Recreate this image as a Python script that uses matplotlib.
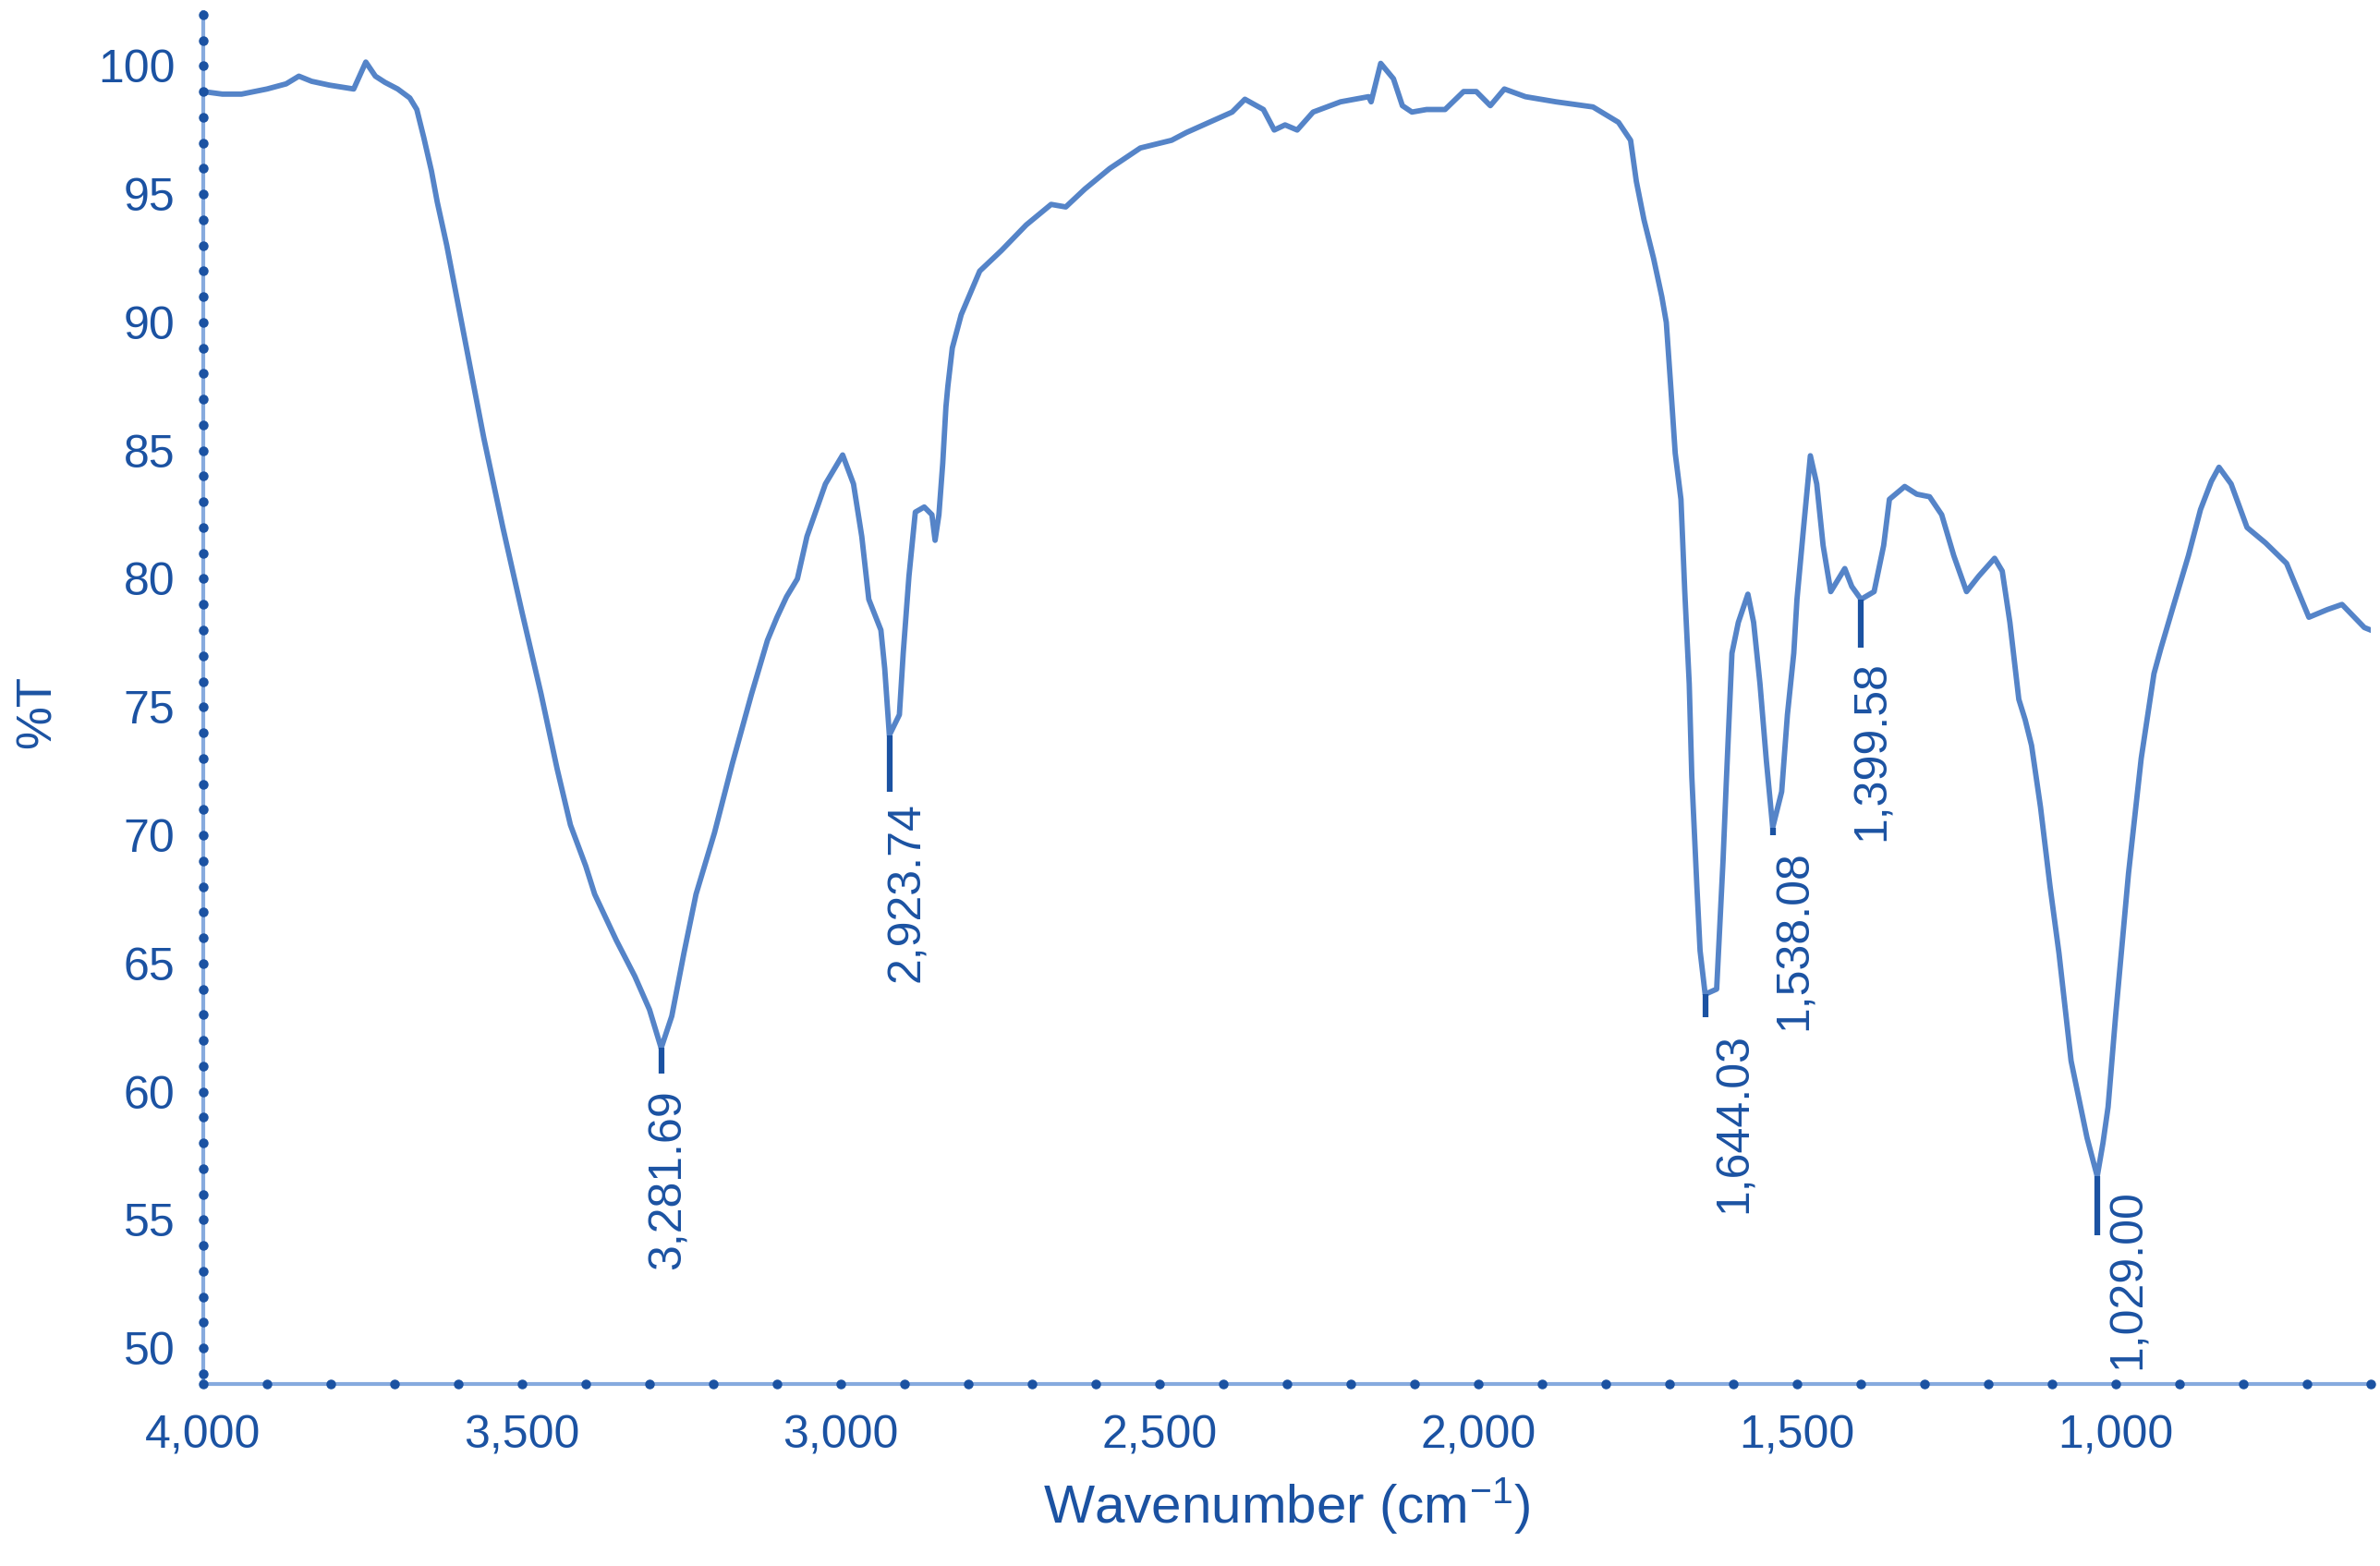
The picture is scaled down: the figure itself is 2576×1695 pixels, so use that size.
import numpy as np
import matplotlib
matplotlib.use('Agg')
import matplotlib.pyplot as plt
from matplotlib.ticker import FuncFormatter, MultipleLocator

plt.rcParams['font.family'] = ['Liberation Sans', 'DejaVu Sans']
plt.rcParams['mathtext.fontset'] = 'custom'
plt.rcParams['mathtext.rm'] = 'Liberation Sans'
plt.rcParams['mathtext.it'] = 'Liberation Sans'

# 光谱数据
wavenumber = [4000, 3970, 3940, 3900, 3870, 3850, 3830, 3802, 3764, 3745,
              3730, 3715, 3695, 3676, 3665, 3654, 3642, 3633, 3618, 3594,
              3560, 3530, 3500, 3470, 3445, 3424, 3400, 3386, 3352, 3323,
              3300, 3281.69, 3265, 3246, 3227, 3198, 3170, 3140, 3115, 3100,
              3085, 3068, 3053, 3024, 2997, 2980, 2967, 2956, 2937, 2931,
              2923.74, 2908, 2902, 2893, 2883, 2869, 2857, 2852, 2846, 2840,
              2835, 2832, 2825, 2811, 2782, 2748, 2709, 2670, 2647, 2617,
              2578, 2530, 2481, 2458, 2386, 2366, 2337, 2320, 2303, 2284,
              2259, 2216, 2172, 2168, 2153, 2133, 2119, 2104, 2081, 2052,
              2023, 2003, 1981, 1959, 1926, 1878, 1820, 1780, 1761, 1752,
              1740, 1725, 1712, 1705, 1698, 1691, 1682, 1676, 1669, 1665,
              1657, 1652, 1644.03, 1635, 1626, 1621, 1616, 1611, 1602, 1592,
              1577, 1568, 1558, 1548, 1538.08, 1524, 1515, 1505, 1500, 1490,
              1479, 1469, 1459, 1447, 1425, 1414, 1399.58, 1379, 1364, 1355,
              1331, 1312, 1292, 1273, 1254, 1234, 1215, 1190, 1178, 1166,
              1152, 1142, 1132, 1118, 1103, 1089, 1070, 1045, 1029, 1020,
              1012, 1000, 980, 960, 940, 929, 910, 886, 867, 850,
              838, 819, 794, 765, 732, 697, 668, 645, 610, 600]
transmittance = [99.0, 98.9, 98.9, 99.1, 99.3, 99.6, 99.4, 99.25, 99.1, 100.15,
                 99.6, 99.36, 99.1, 98.75, 98.3, 97.2, 95.9, 94.7, 93.0, 89.9,
                 85.5, 82.0, 78.7, 75.5, 72.6, 70.4, 68.8, 67.7, 65.9, 64.5,
                 63.2, 61.7, 62.95, 65.4, 67.7, 70.1, 72.8, 75.5, 77.6, 78.5,
                 79.3, 80.0, 81.65, 83.7, 84.83, 83.7, 81.65, 79.2, 78.0, 76.5,
                 73.9, 74.7, 77.1, 80.1, 82.6, 82.8, 82.5, 81.5, 82.5, 84.5,
                 86.7, 87.5, 89.0, 90.3, 92.0, 92.8, 93.8, 94.6, 94.5, 95.2,
                 96.0, 96.8, 97.1, 97.4, 98.2, 98.7, 98.3, 97.5, 97.7, 97.5,
                 98.2, 98.6, 98.8, 98.6, 100.1, 99.5, 98.45, 98.2, 98.3, 98.3,
                 99.0, 99.0, 98.45, 99.1, 98.8, 98.6, 98.4, 97.8, 97.1, 95.5,
                 94.0, 92.5, 91.0, 90.0, 87.5, 84.9, 83.1, 79.5, 75.9, 72.3,
                 68.0, 65.5, 63.8, 63.9, 64.0, 66.5, 69.0, 72.0, 77.1, 78.3,
                 79.4, 78.3, 75.9, 72.9, 70.3, 71.7, 74.7, 77.1, 79.2, 81.9,
                 84.8, 83.7, 81.3, 79.5, 80.4, 79.7, 79.2, 79.5, 81.3, 83.1,
                 83.6, 83.3, 83.2, 82.5, 80.9, 79.5, 80.1, 80.8, 80.3, 78.3,
                 75.3, 74.5, 73.5, 71.1, 68.0, 65.4, 61.2, 58.2, 56.7, 58.0,
                 59.4, 63.0, 68.5, 73.0, 76.3, 77.3, 78.9, 80.9, 82.7, 83.8,
                 84.35, 83.7, 82.0, 81.4, 80.6, 78.5, 78.8, 79.0, 78.1, 78.0]

# 标注的峰
peak_wn = [3281.69, 2923.74, 1644.03, 1538.08, 1399.58, 1029.00]
peak_t = [61.7, 73.9, 63.8, 70.3, 79.2, 56.7]

# 标注样式: 竖线长度, 文字下移, 文字水平偏移(pt)
mark_len = [1.0, 2.2, 0.9, 0.3, 1.9, 2.3]
label_drop = [1.6, 2.6, 1.5, 0.9, 2.4, 0.5]
label_dx = [6, 14, 23, 17, 9, 24]

text_c = '#1b52a2'
line_c = '#5584c8'
spine_c = '#86aade'

fig = plt.figure(figsize=(25.76, 16.95), dpi=100)
ax = fig.add_axes([0.0854, 0.1162, 0.9107, 0.8761])

ax.plot(wavenumber, transmittance, color=line_c, linewidth=4.2, solid_joinstyle='round')

for i in range(len(peak_wn)):
    ax.plot([peak_wn[i], peak_wn[i]], [peak_t[i], peak_t[i] - mark_len[i]],
            color=text_c, linewidth=4.5, solid_capstyle='butt')
    ax.annotate(f'{peak_wn[i]:,.2f}', xy=(peak_wn[i], peak_t[i] - label_drop[i]),
                xytext=(label_dx[i], 0), textcoords='offset points',
                rotation=90, ha='center', va='top', fontsize=36, color=text_c)

ax.set_xlim(4000, 600)
ax.set_ylim(48.6, 102.1)
ax.xaxis.set_major_locator(MultipleLocator(500))
ax.xaxis.set_major_formatter(FuncFormatter(lambda v, p: f'{v:,.0f}'))
ax.yaxis.set_major_formatter(FuncFormatter(lambda v, p: f'{v:.0f}'))
ax.set_yticks([50, 55, 60, 65, 70, 75, 80, 85, 90, 95, 100])

for s in ['top', 'right']:
    ax.spines[s].set_visible(False)
for s in ['left', 'bottom']:
    ax.spines[s].set_color(spine_c)
    ax.spines[s].set_linewidth(3)

ax.tick_params(axis='both', length=0, labelsize=36, labelcolor=text_c)
ax.tick_params(axis='x', pad=24)
ax.tick_params(axis='y', pad=22)

# 轴上的圆点刻度
dot_x = np.arange(600, 4001, 100)
dot_y = np.arange(49, 103, 1)
ax.plot(dot_x, np.zeros(len(dot_x)), transform=ax.get_xaxis_transform(),
        ls='none', marker='o', ms=6.5, color=text_c, clip_on=False, zorder=5)
ax.plot(np.zeros(len(dot_y)), dot_y, transform=ax.get_yaxis_transform(),
        ls='none', marker='o', ms=6.5, color=text_c, clip_on=False, zorder=5)

ax.set_xlabel('Wavenumber (cm$^{-1}$)', fontsize=42, color=text_c, labelpad=14)
ax.set_ylabel('%T', fontsize=38, color=text_c)
ax.yaxis.set_label_coords(-0.066, 0.49)

plt.savefig('out.png', dpi=100)
